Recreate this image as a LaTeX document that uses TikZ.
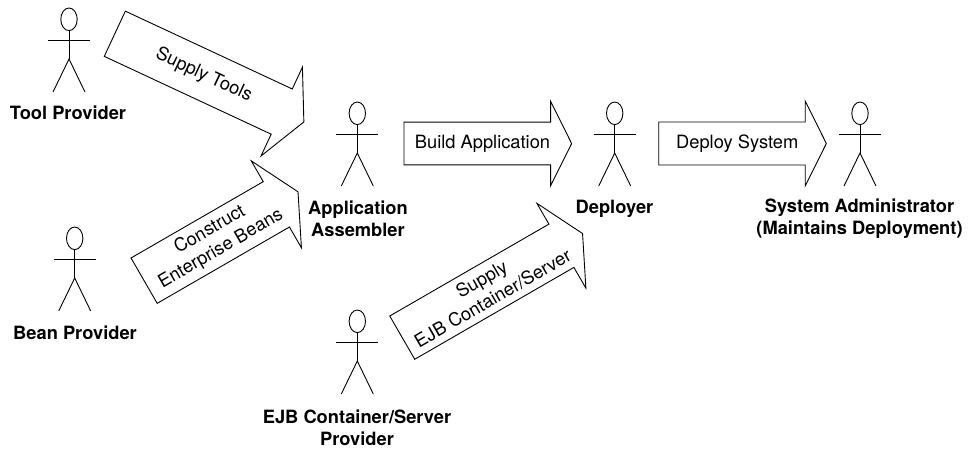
\documentclass[tikz,border=0pt]{standalone}
\usepackage{fontspec}
\setmainfont{TeX Gyre Heros}
\usepackage{tikz}
\usetikzlibrary{shapes.arrows}

\begin{document}
\begin{tikzpicture}[
    x=1pt, y=-1pt,
    actor/.pic={
        \draw[stick] (0,11.3) ellipse (8.2pt and 11.3pt);
        \draw[stick] (0,22.6) -- (0,51);
        \draw[stick] (-21,32) -- (21,32);
        \draw[stick] (-16,84) -- (0,51) -- (16,84);
    },
    stick/.style={line width=0.9pt},
    role/.style={font=\fontsize{18.3}{22}\selectfont\bfseries, align=center, inner sep=0pt},
    task/.style={draw, line width=0.9pt, shape=single arrow, single arrow tip angle=127, single arrow head extend=24pt, minimum width=98pt, inner xsep=0pt, font=\fontsize{18.3}{22}\selectfont, align=center}
]
    % Actors
    \pic (tool) at (69,8) {actor};
    \pic (bean) at (74.7,227) {actor};
    \pic (assembler) at (357.3,102) {actor};
    \pic (deployer) at (614.7,102) {actor};
    \pic (admin) at (860,102) {actor};
    \pic (container) at (357.3,310) {actor};

    % Labels
    \node[role] (toollabel) at (68,113) {Tool Provider};
    \node[role] (beanlabel) at (75,333) {Bean Provider};
    \node[role] (assemblerlabel) at (358,219) {Application\\Assembler};
    \node[role] (deployerlabel) at (614.5,209) {Deployer};
    \node[role] (adminlabel) at (859.5,219) {System Administrator\\(Maintains Deployment)};
    \node[role] (containerlabel) at (357,428) {EJB Container/Server\\Provider};

    % Tasks
    \node[task, rotate=-25, inner ysep=15.6pt, minimum height=208.6pt] (tools) at (203.7,75.2) {Supply Tools};
    \node[task, rotate=30, inner ysep=5.9pt, minimum height=177.7pt, minimum width=100pt] (beans) at (215.4,239.5) {Construct\\Enterprise Beans};
    \node[task, rotate=30, inner ysep=6.5pt, minimum height=208.2pt] (server) at (487,288.7) {Supply\\EJB Container/Server};
    \node[task, inner ysep=12.2pt, minimum height=167.6pt, minimum width=83.4pt, single arrow head extend=20.9pt] (build) at (482.5,143.5) {Build Application};
    \node[task, inner ysep=12.2pt, minimum height=167.6pt, minimum width=83.4pt, single arrow head extend=20.9pt] (deploy) at (737.2,143.5) {Deploy System};

    \useasboundingbox (0,0) rectangle (971,448);
\end{tikzpicture}
\end{document}
